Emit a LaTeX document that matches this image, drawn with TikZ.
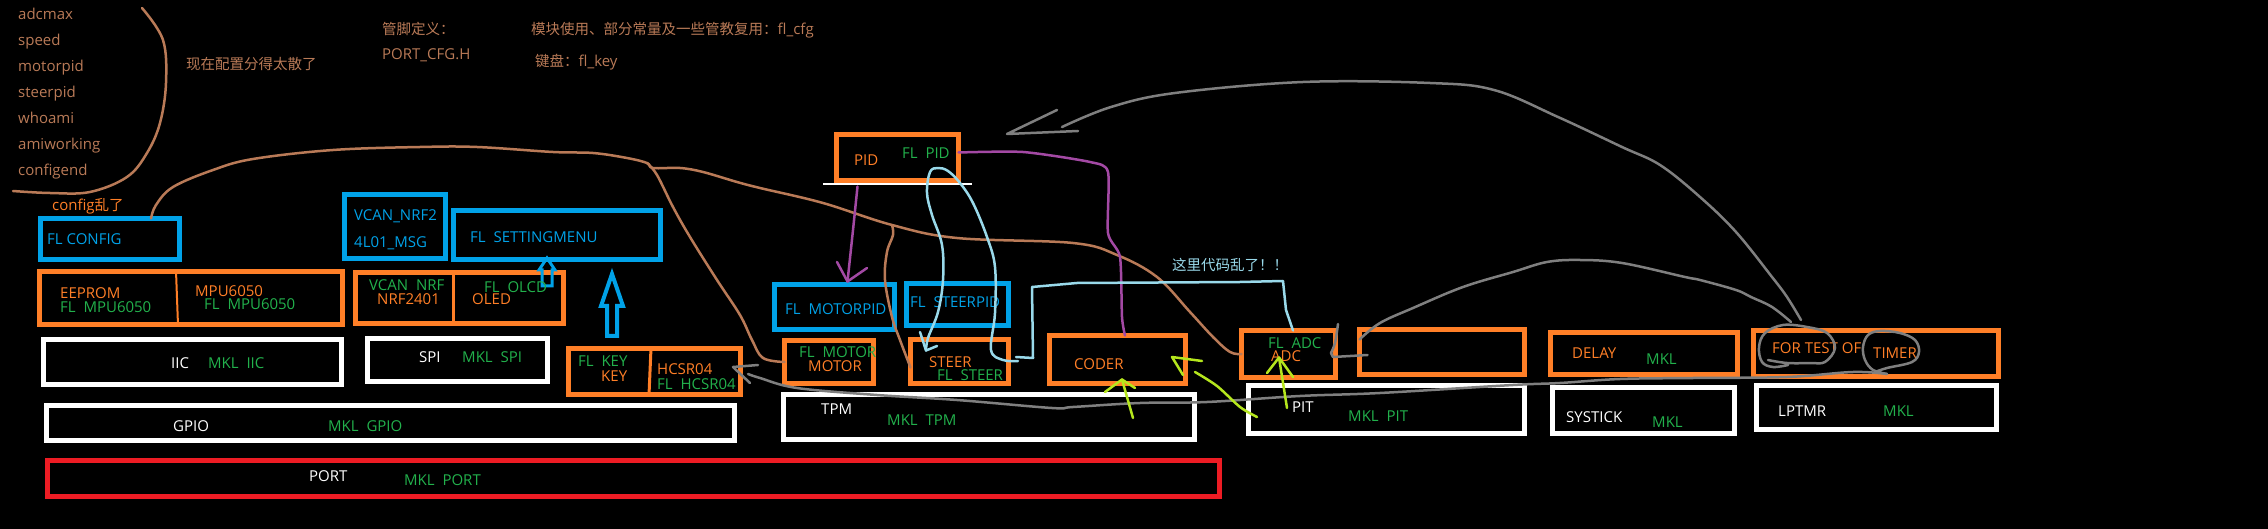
\documentclass[tikz,border=0pt]{standalone}
\usepackage{fontspec}
\setmainfont{Open Sans}
\newfontfamily\cjk{Noto Sans CJK SC}
\definecolor{cor}{HTML}{FF7F27}
\definecolor{cbl}{HTML}{00A2E8}
\definecolor{cgr}{HTML}{22B14C}
\definecolor{cbr}{HTML}{B97A57}
\definecolor{clb}{HTML}{99D9EA}
\definecolor{cpu}{HTML}{A349A4}
\definecolor{cyg}{HTML}{B5E61D}
\definecolor{cgy}{HTML}{7F7F7F}
\definecolor{crd}{HTML}{ED1C24}
\newcommand\zh[1]{{\cjk\fontsize{14.5}{17}\selectfont #1}}
\newcommand\bx[6]{\node[draw=#2, line width=5pt, minimum width={#5-#3-5}, minimum height={#6-#4-5}, inner sep=0pt, outer sep=0pt] (#1) at ({(#3+#5)/2},{(#4+#6)/2}) {};}
\newcommand\tx[5]{\node[txt, text=#1] (#2) at (#3,#4) {#5};}
\tikzset{
  txt/.style={anchor=west, inner sep=0pt, text height=10.7pt, text depth=0pt, font=\fontsize{15}{18}\selectfont},
  pen/.style={line width=2.5pt, line cap=round, line join=round},
}
\begin{document}
\begin{tikzpicture}[x=1pt,y=-1pt]
\fill[black] (0,0) rectangle (2268,529);
\useasboundingbox (0,0) rectangle (2268,529);

% boxes
\bx{flconfig}{cbl}{38}{216}{182}{262}
\bx{eeprom}{cor}{37}{269}{345}{327}
\bx{iic}{white}{41}{337}{344}{387}
\bx{vcanmsg}{cbl}{342}{192}{448}{261}
\bx{setmenu}{cbl}{451}{208}{663}{262}
\bx{nrfoled}{cor}{353}{270}{566}{326}
\bx{spi}{white}{365}{336}{550}{384}
\bx{keyhc}{cor}{566}{346}{743}{397}
\bx{pid}{cor}{834}{132}{961}{183}
\bx{motorpid}{cbl}{772}{282}{897}{332}
\bx{steerpid}{cbl}{904}{281}{1011}{328}
\bx{motor}{cor}{782}{338}{876}{386}
\bx{steer}{cor}{908}{337}{1011}{386}
\bx{coder}{cor}{1047}{333}{1188}{386}
\bx{adc}{cor}{1239}{328}{1338}{380}
\bx{blank}{cor}{1357}{327}{1527}{377}
\bx{delay}{cor}{1548}{330}{1740}{377}
\bx{fortest}{cor}{1751}{328}{2001}{379}
\bx{gpio}{white}{44}{403}{737}{443}
\bx{tpm}{white}{781}{392}{1197}{442}
\bx{pit}{white}{1246}{383}{1527}{436}
\bx{systick}{white}{1550}{385}{1737}{436}
\bx{lptmr}{white}{1754}{383}{1999}{432}
\bx{port}{crd}{45}{458}{1222}{499}

% dividers and underline
\draw[cor, line width=2pt] (176,271) -- (178,325);
\draw[cor, line width=3pt] (453,272) -- (453,324);
\draw[cor, line width=3pt] (651,348) -- (649,395);
\draw[white, line width=1.5pt] (823,184) -- (972,184);

% hollow blue arrows
\draw[cbl, line width=3pt, line join=miter] (547,258) -- (555,270) -- (552,270) -- (552,286) -- (542,286) -- (542,270) -- (539,270) -- cycle;
\draw[cbl, line width=4pt, line join=miter] (612,274) -- (623,306) -- (617,306) -- (617,336) -- (607,336) -- (607,306) -- (601,306) -- cycle;

% top-left notes
\tx{cbr}{n1}{18}{14}{adcmax}
\tx{cbr}{n2}{18}{40}{speed}
\tx{cbr}{n3}{18}{66}{motorpid}
\tx{cbr}{n4}{18}{92}{steerpid}
\tx{cbr}{n5}{18}{118}{whoami}
\tx{cbr}{n6}{18}{144}{amiworking}
\tx{cbr}{n7}{18}{170}{configend}
\tx{cbr}{n8}{186}{64}{\zh{现在配置分得太散了}}
\tx{cor}{n9}{52}{205}{config\zh{乱了}}
\tx{cbr}{n10}{382}{29}{\zh{管脚定义：}}
\tx{cbr}{n11}{382}{54}{PORT\_CFG.H}
\tx{cbr}{n12}{531}{29}{\zh{模块使用、部分常量及一些管教复用：}fl\_cfg}
\tx{cbr}{n13}{535}{61}{\zh{键盘：}fl\_key}
\tx{clb}{n14}{1172}{265}{\zh{这里代码乱了！！}}

% box labels
\tx{cbl}{a1}{47}{239}{FL CONFIG}
\tx{cbl}{a2}{354}{215}{VCAN\_NRF2}
\tx{cbl}{a3}{354}{242}{4L01\_MSG}
\tx{cbl}{a4}{470}{237}{FL\ \ SETTINGMENU}
\tx{cbl}{a5}{785}{309}{FL\ \ MOTORPID}
\tx{cbl}{a6}{910}{302}{FL\ \ STEERPID}

\tx{cor}{b1}{60}{293}{EEPROM}
\tx{cgr}{b2}{60}{307}{FL\ \ MPU6050}
\tx{cor}{b3}{195}{291}{MPU6050}
\tx{cgr}{b4}{204}{304}{FL\ \ MPU6050}
\tx{white}{b5}{171}{363}{IIC}
\tx{cgr}{b6}{208}{363}{MKL\ \ IIC}
\tx{cgr}{b7}{369}{285}{VCAN\ \ NRF}
\tx{cor}{b8}{377}{299}{NRF2401}
\tx{cgr}{b9}{484}{287}{FL\ \ OLCD}
\tx{cor}{b10}{472}{299}{OLED}
\tx{white}{b11}{419}{357}{SPI}
\tx{cgr}{b12}{462}{357}{MKL\ \ SPI}
\tx{cgr}{b13}{578}{361}{FL\ \ KEY}
\tx{cor}{b14}{601}{376}{KEY}
\tx{cor}{b15}{657}{369}{HCSR04}
\tx{cgr}{b16}{657}{384}{FL\ \ HCSR04}
\tx{cor}{b17}{854}{160}{PID}
\tx{cgr}{b18}{902}{153}{FL\ \ PID}
\tx{cgr}{b19}{799}{352}{FL\ \ MOTOR}
\tx{cor}{b20}{808}{366}{MOTOR}
\tx{cor}{b21}{929}{362}{STEER}
\tx{cgr}{b22}{937}{375}{FL\ \ STEER}
\tx{cor}{b23}{1074}{364}{CODER}
\tx{cgr}{b24}{1268}{343}{FL\ \ ADC}
\tx{cor}{b25}{1271}{356}{ADC}
\tx{cor}{b26}{1572}{353}{DELAY}
\tx{cgr}{b27}{1646}{359}{MKL}
\tx{cor}{b28}{1772}{348}{FOR TEST OF}
\tx{cor}{b29}{1873}{353}{TIMER}
\tx{white}{b30}{173}{426}{GPIO}
\tx{cgr}{b31}{328}{426}{MKL\ \ GPIO}
\tx{white}{b32}{821}{409}{TPM}
\tx{cgr}{b33}{887}{420}{MKL\ \ TPM}
\tx{white}{b34}{1292}{407}{PIT}
\tx{cgr}{b35}{1348}{416}{MKL\ \ PIT}
\tx{white}{b36}{1566}{417}{SYSTICK}
\tx{cgr}{b37}{1652}{422}{MKL}
\tx{white}{b38}{1778}{411}{LPTMR}
\tx{cgr}{b39}{1883}{411}{MKL}
\tx{white}{b40}{309}{476}{PORT}
\tx{cgr}{b41}{404}{480}{MKL\ \ PORT}

% brown strokes
\draw[pen,cbr] plot[smooth,tension=0.6] coordinates {(142,8) (163,40) (166,83) (160,123) (147,153) (127,177) (90,192) (50,193) (13,191)};
\coordinate (bsplit) at (647,163);
\coordinate (bsplit2) at (892,225);
\draw[pen,cbr] plot[smooth,tension=0.6] coordinates {([xshift=41pt]flconfig.north) (156,205) (173,187) (213,170) (253,159) (333,150) (420,147) (477,147) (553,152) (593,153) (627,158) (bsplit) (653,168) (680,168) (703,172) (737,182) (760,188) (823,203) (bsplit2) (957,238) (1073,243) (1117,255) (1157,277) (1190,312) (1213,337) (1230,352) (adc.west)};
\draw[pen,cbr] plot[smooth,tension=0.6] coordinates {(bsplit) (657,175) (673,207) (690,237) (717,280) (740,315) (752,340) (763,358) (motor.west)};
\draw[pen,cbr] plot[smooth,tension=0.6] coordinates {(bsplit2) (893,235) (887,252) (885,280) (892,317) (900,340) ([yshift=-6pt]steer.west)};

% purple strokes
\coordinate (p1tip) at ([xshift=13pt,yshift=3pt]motorpid.north);
\draw[pen,cpu] plot[smooth] coordinates {([xshift=-40pt,yshift=-6pt]pid.south) (853,230) (p1tip)};
\draw[pen,cpu] (837,262) -- (p1tip) -- (867,268);
\draw[pen,cpu] plot[smooth,tension=0.4] coordinates {([yshift=5pt]pid.east) (1023,152) (1090,162) (1108,172) (1108,233) (1120,257) (1122,317) ([xshift=7.5pt]coder.north)};

% light blue strokes
\coordinate (l1tip) at ([xshift=-33.5pt,yshift=-11pt]steer.north);
\draw[pen,clb] plot[smooth,tension=0.6] coordinates {(l1tip) (928,338) (938,312) (943,280) (942,245) (932,215) (927,193) (930,172) (938,168) (948,171) (960,183) (973,203) (987,237) (995,267) (995,313) (991,350) (1003,360) (1018,361)};
\draw[pen,clb] (920,332) -- (l1tip) -- (937,346);
\draw[pen,clb] (1016,357) -- (1033,358) -- (1032,287) -- (1077,283) -- (1240,282) -- (1283,281) -- (1286,310) -- ([xshift=4.5pt]adc.north);

% gray strokes
\coordinate (ftc) at (1801,320);
\coordinate (g1tip) at (1007,134);
\draw[pen,cgy] plot[smooth,tension=0.6] coordinates {(ftc) (1787,297) (1772,277) (1736,232) (1700,197) (1660,165) (1622,147) (1558,117) (1494,90) (1430,83) (1303,82) (1175,93) (1111,107) (1062,127)};
\draw[pen,cgy] (1057,110) -- (g1tip) -- (1078,131);
\draw[pen,cgy] plot[smooth,tension=0.6] coordinates {(1791,322) (1772,307) (1751,297) (1736,290) (1700,280) (1685,277) (1622,263) (1580,260) (1547,262) (1513,272) (1463,287) (1413,308) (1380,323) ([yshift=-10pt]blank.north west)};
\draw[pen,cgy] plot[smooth,tension=0.5] coordinates {(1338,324) (1335,343) (1331,353)} -- (1333,357) -- ([xshift=8pt,yshift=-3pt]blank.west);
\draw[pen,cgy] plot[smooth,tension=0.6] coordinates {(1788,365) (1773,367) (1762,362) (1759,347) (1765,333) (1783,325) (1807,327) (1827,333) (1835,348) (1825,362) (1810,363) (1787,363) (1768,360)};
\coordinate (tmb) at (1887,374);
\draw[pen,cgy] plot[smooth,tension=0.6] coordinates {(tmb) (1873,370) (1865,360) (1863,347) (1868,335) (1880,331) (1900,333) (1915,340) (1919,352) (1912,362) (1887,368) (1875,372)};
\coordinate (g6tip) at ([xshift=-7.5pt,yshift=4.5pt]keyhc.east);
\draw[pen,cgy] plot[smooth,tension=0.6] coordinates {(tmb) (1853,372) (1787,377) (1693,378) (1620,379) (1560,383) (1513,385) (1380,393) (1300,396) (1207,402) (1140,403) (1073,407) (1052,408) (957,400) (877,395) (797,388) (760,378) (748,374)};
\draw[pen,cgy] (758,365) -- (g6tip) -- (750,383);

% yellow-green arrows
\coordinate (y1tip) at ([xshift=4.5pt,yshift=4pt]coder.south);
\draw[pen,cyg] (1133,418) -- (y1tip);
\draw[pen,cyg] (1105,392) -- (y1tip) -- (1135,388);
\coordinate (y2tip) at ([xshift=-13.5pt,yshift=2.5pt]coder.east);
\draw[pen,cyg] plot[smooth] coordinates {(1257,417) (1240,407) (1217,386) (1195,372)};
\draw[pen,cyg] (1202,361) -- (y2tip) -- (1183,375);
\coordinate (y3tip) at ([xshift=-9.5pt,yshift=20pt]adc.south);
\draw[pen,cyg] (1287,408) -- (y3tip);
\draw[pen,cyg] (1267,373) -- (y3tip) -- (1293,377);
\end{tikzpicture}
\end{document}
